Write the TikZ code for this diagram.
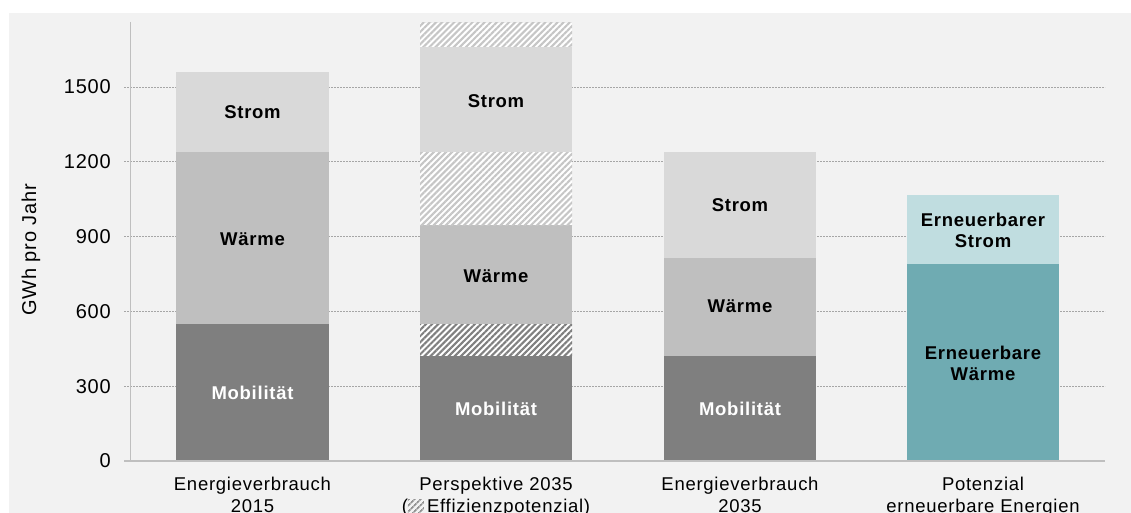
\documentclass[tikz,border=0pt]{standalone}
\usepackage{fontspec}
\setmainfont{Liberation Sans}[LetterSpace=4]
\usetikzlibrary{patterns.meta}
\definecolor{bg}{HTML}{F2F2F2}
\definecolor{mob}{HTML}{7F7F7F}
\definecolor{waerme}{HTML}{BFBFBF}
\definecolor{strom}{HTML}{D9D9D9}
\definecolor{ewaerme}{HTML}{6FABB2}
\definecolor{estrom}{HTML}{C0DDE0}
\definecolor{gridc}{HTML}{A6A6A6}
\definecolor{axisc}{HTML}{BFBFBF}
\definecolor{hatchlight}{HTML}{C6C6C6}
\definecolor{hatchdark}{HTML}{808080}
\begin{document}
\begin{tikzpicture}[x=1pt,y=-1pt,
  gridline/.style={draw=gridc, line width=0.7pt, dash pattern=on 2pt off 1pt},
  axisline/.style={draw=axisc, line width=1.2pt},
  hatchdk/.style={fill=white, postaction={pattern={Lines[angle=45,distance=4.3pt,line width=2.1pt]}, pattern color=hatchdark}},
  hatchlt/.style={fill=white, postaction={pattern={Lines[angle=45,distance=4.3pt,line width=2.1pt]}, pattern color=hatchlight}},
  barlbl/.style={font=\fontsize{18.5}{21}\selectfont\bfseries, inner sep=0pt, align=center},
  ticklbl/.style={font=\fontsize{20}{22}\selectfont, inner sep=0pt, anchor=east},
  catlbl/.style={font=\fontsize{18.5}{22.5}\selectfont, inner sep=0pt, align=center, anchor=north}
]
\useasboundingbox (0,0) rectangle (1131,513);
\fill[bg] (9,13) rectangle (1131,513);
% grid lines
\foreach \yy in {87.05,161.8,236.6,311.4,386.2}
  \draw[gridline] (124,\yy) -- (1105,\yy);
% y axis
\draw[axisline, line width=0.8pt] (130,22) -- (130,461);
% tick labels
\node[ticklbl] (t0) at (111,461) {0};
\node[ticklbl] (t300) at (111,386.2) {300};
\node[ticklbl] (t600) at (111,311.4) {600};
\node[ticklbl] (t900) at (111,236.6) {900};
\node[ticklbl] (t1200) at (111,161.8) {1200};
\node[ticklbl] (t1500) at (111,87.05) {1500};
\node[font=\fontsize{20}{22}\selectfont, rotate=90, inner sep=0pt] (ylab) at (31,250) {GWh pro Jahr};
% bar 1
\fill[mob] (176,461) rectangle (329,324);
\fill[waerme] (176,324) rectangle (329,152);
\fill[strom] (176,152) rectangle (329,72);
% bar 2
\fill[mob] (420,461) rectangle (572,356);
\path[hatchdk] (420,356) rectangle (572,324);
\fill[waerme] (420,324) rectangle (572,225);
\path[hatchlt] (420,225) rectangle (572,152);
\fill[strom] (420,152) rectangle (572,47);
\path[hatchlt] (420,47) rectangle (572,23);
% bar 3
\fill[mob] (664,461) rectangle (816,356);
\fill[waerme] (664,356) rectangle (816,258);
\fill[strom] (664,258) rectangle (816,152);
% bar 4
\fill[ewaerme] (907,461) rectangle (1059,264);
\fill[estrom] (907,264) rectangle (1059,195);
% x axis
\draw[axisline] (124,461) -- (1105,461);
% bar labels
\node[barlbl] (b1s) at (252.5,112) {Strom};
\node[barlbl] (b1w) at (252.5,239) {Wärme};
\node[barlbl, text=white] (b1m) at (252.5,393) {Mobilität};
\node[barlbl] (b2s) at (496,101) {Strom};
\node[barlbl] (b2w) at (496,276) {Wärme};
\node[barlbl, text=white] (b2m) at (496,409) {Mobilität};
\node[barlbl] (b3s) at (740,205) {Strom};
\node[barlbl] (b3w) at (740,306) {Wärme};
\node[barlbl, text=white] (b3m) at (740,409) {Mobilität};
\node[barlbl] (b4s) at (983,230) {Erneuerbarer\\Strom};
\node[barlbl] (b4w) at (983,363) {Erneuerbare\\Wärme};
% category labels
\node[catlbl] (c1) at (252.5,476.5) {Energieverbrauch\\2015};
\node[catlbl] (c2) at (496,476.5) {Perspektive 2035\\(\tikz[baseline=0pt,x=1pt,y=1pt]{\path[pattern={Lines[angle=45,distance=4pt,line width=1.8pt]}, pattern color=hatchdark!85] (0,-1) rectangle (16,13);}\,Effizienzpotenzial)};
\node[catlbl] (c3) at (740,476.5) {Energieverbrauch\\2035};
\node[catlbl] (c4) at (983,476.5) {Potenzial\\erneuerbare Energien};
\end{tikzpicture}
\end{document}
